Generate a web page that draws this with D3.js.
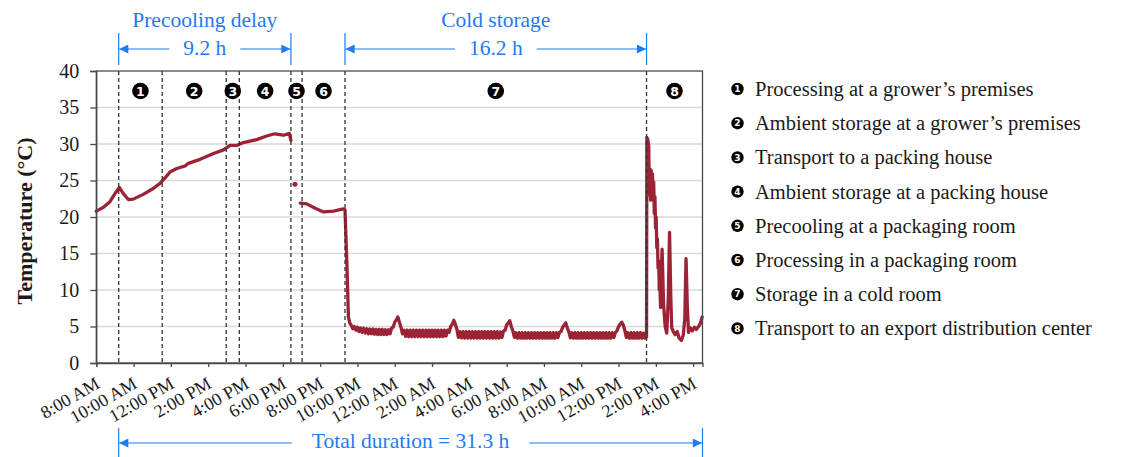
<!DOCTYPE html>
<html>
<head>
<meta charset="utf-8">
<script src="https://cdn.jsdelivr.net/npm/d3@7"></script>
<style>
  body { margin: 0; background: #fff; }
</style>
</head>
<body>
<svg id="chart" width="1126" height="457"></svg>
<script>
// Logger record: time is minutes after the start of the record (8:00 AM, harvest day)
const startTime = new Date(2020, 0, 6, 8, 0);
const endMinute = 1950;

// [minutes, °C] readings, grower's premises through the packing house
const growerToPackingHouse = [
  [0, 20.8], [22, 21.3], [44, 22.1], [60, 23.2], [74, 24.05], [87, 23.2], [103, 22.4],
  [119, 22.45], [151, 23.1], [183, 23.9], [205, 24.6], [224, 25.5], [238, 26.2],
  [259, 26.65], [286, 27.0], [296, 27.35], [334, 27.9], [377, 28.7], [409, 29.2],
  [430, 29.8], [452, 29.8], [473, 30.2], [516, 30.6], [548, 31.1], [574, 31.4],
  [602, 31.2], [621, 31.45], [626, 30.5]
];

// single reading logged during precooling
const precoolingReading = [[639, 24.5]];

// packaging room, then the drop into the cold room
const packagingRoom = [
  [656, 21.9], [677, 21.8], [704, 21.2], [731, 20.7], [763, 20.8], [795, 21.1],
  [800, 21.0], [806, 13.7], [811, 6.3], [816, 5.4]
];

// cold room: 5-minute readings from minute 820 (compressor cycling, defrost peaks)
const coldRoomStart = 820;
const coldRoomStep = 5;
const coldRoomTemps = [
  5.2, 4.7, 5.0, 4.5, 4.9, 4.3, 4.8, 4.2, 4.75, 4.1, 4.7, 4.0,
  4.65, 4.0, 4.65, 3.95, 4.6, 3.9, 4.6, 3.9, 4.6, 3.9, 4.55, 3.9,
  4.55, 4.0, 4.8, 4.9, 5.6, 5.9, 6.3, 5.6, 4.9, 4.0, 4.5, 3.65,
  4.5, 3.6, 4.5, 3.6, 4.5, 3.6, 4.5, 3.6, 4.5, 3.6, 4.5, 3.6,
  4.5, 3.6, 4.5, 3.6, 4.5, 3.6, 4.5, 3.6, 4.5, 3.6, 4.5, 3.6,
  4.5, 3.7, 4.5, 4.2, 5.0, 5.3, 5.85, 5.3, 4.6, 3.5, 4.3, 3.45,
  4.3, 3.4, 4.3, 3.4, 4.3, 3.4, 4.3, 3.4, 4.3, 3.4, 4.3, 3.4,
  4.3, 3.4, 4.3, 3.4, 4.3, 3.4, 4.3, 3.4, 4.3, 3.4, 4.3, 3.4,
  4.25, 3.5, 4.4, 4.5, 5.2, 5.5, 5.8, 5.0, 4.4, 3.5, 4.15, 3.4,
  4.15, 3.4, 4.15, 3.4, 4.15, 3.4, 4.15, 3.4, 4.15, 3.4, 4.15, 3.4,
  4.15, 3.4, 4.15, 3.4, 4.15, 3.4, 4.15, 3.4, 4.15, 3.4, 4.15, 3.4,
  4.15, 3.5, 4.2, 4.3, 4.9, 5.2, 5.5, 4.8, 4.3, 3.45, 4.15, 3.4,
  4.15, 3.4, 4.15, 3.4, 4.15, 3.4, 4.15, 3.4, 4.15, 3.4, 4.15, 3.4,
  4.15, 3.4, 4.15, 3.4, 4.15, 3.4, 4.15, 3.4, 4.15, 3.4, 4.15, 3.4,
  4.15, 3.5, 4.2, 4.4, 5.0, 5.3, 5.6, 5.2, 4.5, 3.5, 4.15, 3.4,
  4.15, 3.4, 4.15, 3.4, 4.15, 3.4, 4.15, 3.4, 4.1, 3.4, 3.6
];

// truck to the export distribution center
const exportTransport = [
  [1771, 30.9], [1774, 30.6], [1777, 29.8], [1779, 23.0], [1781, 26.6], [1783, 22.3],
  [1785, 26.4], [1787, 22.4], [1789, 25.9], [1791, 22.5], [1793, 24.8], [1795, 20.5],
  [1797, 22.8], [1799, 18.5], [1801, 20.0], [1803, 15.8], [1805, 17.0], [1807, 13.0],
  [1809, 14.0], [1811, 10.0], [1813, 10.8], [1815, 7.6],
  [1820, 15.6], [1825, 7.8], [1830, 5.0], [1835, 4.1], [1840, 9.0], [1844, 17.9],
  [1848, 9.0], [1851, 4.8], [1856, 4.3], [1862, 3.9], [1869, 4.3], [1875, 3.4],
  [1882, 3.1], [1888, 3.8], [1893, 6.0], [1897, 14.3], [1901, 8.0], [1905, 4.2],
  [1911, 4.8], [1917, 4.4], [1924, 4.9], [1930, 4.6], [1937, 5.0], [1943, 5.4], [1949, 6.3]
];

// stage start times (minutes); stage 8 ends at endMinute
const stageStarts = [72, 212, 418, 460, 626, 662, 800, 1770];
const stageNames = [
  "Processing at a grower\u2019s premises",
  "Ambient storage at a grower\u2019s premises",
  "Transport to a packing house",
  "Ambient storage at a packing house",
  "Precooling at a packaging room",
  "Processing in a packaging room",
  "Storage in a cold room",
  "Transport to an export distribution center"
];

const yTicks = [0, 5, 10, 15, 20, 25, 30, 35, 40];

// ---------------------------------------------------------------
const serif = "'Liberation Serif', 'Times New Roman', serif";
const blue = "#1f7bf2";
const lineRed = "#9b2335";
const frameGrey = "#4a4a4a";

const svg = d3.select("#chart");
svg.append("rect").attr("width", 1126).attr("height", 457).attr("fill", "#fff");

const at = m => new Date(startTime.getTime() + m * 60000);
const coldRoom = coldRoomTemps.map((t, i) => [coldRoomStart + i * coldRoomStep, t]);

const x = d3.scaleTime().domain([startTime, at(endMinute)]).range([96.3, 702.5]);
const y = d3.scaleLinear().domain([0, 40]).range([363, 71]);
const [x0, x1] = x.range();
const [yB, yT] = y.range();

// gridlines
svg.append("g").selectAll("line")
  .data(yTicks.filter(v => v > 0 && v < 40))
  .join("line")
  .attr("x1", x0).attr("x2", x1)
  .attr("y1", d => y(d)).attr("y2", d => y(d))
  .attr("stroke", "#d9d9d9").attr("stroke-width", 1.5);

// temperature trace
const line = d3.line().x(d => x(at(d[0]))).y(d => y(d[1]));
const traceStyle = p => p.attr("fill", "none").attr("stroke", lineRed)
  .attr("stroke-width", 3.3).attr("stroke-linejoin", "round").attr("stroke-linecap", "round");

svg.append("path").datum(growerToPackingHouse).attr("d", line).call(traceStyle);
svg.append("path").datum(packagingRoom.concat(coldRoom, exportTransport)).attr("d", line).call(traceStyle);
svg.append("g").selectAll("circle").data(precoolingReading).join("circle")
  .attr("cx", d => x(at(d[0]))).attr("cy", d => y(d[1])).attr("r", 2.5).attr("fill", lineRed);

// stage boundaries
svg.append("g").selectAll("line").data(stageStarts).join("line")
  .attr("x1", d => x(at(d))).attr("x2", d => x(at(d)))
  .attr("y1", yT).attr("y2", yB)
  .attr("stroke", "#333").attr("stroke-width", 1.3).attr("stroke-dasharray", "4,3");

// frame
svg.append("rect").attr("x", x0).attr("y", yT).attr("width", x1 - x0).attr("height", yB - yT)
  .attr("fill", "none").attr("stroke", frameGrey).attr("stroke-width", 1.3);

// axes
const yAxis = svg.append("g").attr("transform", `translate(${x0},0)`)
  .call(d3.axisLeft(y).tickValues(yTicks).tickSize(6).tickPadding(11));
const xAxis = svg.append("g").attr("transform", `translate(0,${yB})`)
  .call(d3.axisBottom(x).ticks(d3.timeHour.every(2)).tickFormat(d3.timeFormat("%-I:%M %p")).tickSize(4));
[yAxis, xAxis].forEach(g => {
  g.select(".domain").attr("stroke", frameGrey).attr("stroke-width", 1.3);
  g.selectAll(".tick line").attr("stroke", frameGrey).attr("stroke-width", 1.3);
  g.selectAll("text").attr("font-family", serif).attr("fill", "#1a1a1a");
});
yAxis.selectAll("text").attr("font-size", 20);
xAxis.selectAll("text")
  .attr("font-size", 18).attr("text-anchor", "end")
  .attr("x", 0).attr("y", 0).attr("dy", 0)
  .attr("transform", "translate(4,24) rotate(-30)");

// y title
svg.append("text")
  .attr("transform", `translate(32,${(yT + yB) / 2 + 4}) rotate(-90)`)
  .attr("text-anchor", "middle")
  .attr("font-family", serif).attr("font-weight", "bold").attr("font-size", 22)
  .attr("fill", "#1a1a1a")
  .text("Temperature (\u00B0C)");

// numbered badges
function badge(g, cx, cy, r, n, fs) {
  g.append("circle").attr("cx", cx).attr("cy", cy).attr("r", r).attr("fill", "#000");
  g.append("text").attr("x", cx).attr("y", cy).attr("dy", "0.36em")
    .attr("text-anchor", "middle").attr("fill", "#fff")
    .attr("font-family", "'DejaVu Sans', sans-serif").attr("font-weight", "bold")
    .attr("font-size", fs).text(n);
}
const stageEnds = stageStarts.slice(1).concat([endMinute]);
const badges = svg.append("g");
stageStarts.forEach((s, i) => {
  const cx = (x(at(s)) + x(at(stageEnds[i]))) / 2;
  badge(badges, cx, 91, 8.3, i + 1, 12.5);
});

// legend
const legend = svg.append("g");
stageNames.forEach((name, i) => {
  const cy = 89 + i * 34.2;
  badge(legend, 737.5, cy, 6.2, i + 1, 9);
  legend.append("text").attr("x", 755).attr("y", cy + 7)
    .attr("font-family", serif).attr("font-size", 20.5).attr("fill", "#1a1a1a")
    .text(name);
});

// dimension arrows
const defs = svg.append("defs");
defs.append("marker").attr("id", "arrowEnd").attr("viewBox", "0 0 10 10")
  .attr("refX", 10).attr("refY", 5).attr("markerWidth", 10).attr("markerHeight", 9)
  .attr("markerUnits", "userSpaceOnUse").attr("orient", "auto")
  .append("path").attr("d", "M0,0L10,5L0,10Z").attr("fill", blue);

function dimension(m0, m1, lineY, tickTop, tickBottom, label, labelY, title, titleY, gap) {
  const g = svg.append("g");
  const xa = x(at(m0)), xb = x(at(m1)), mid = (xa + xb) / 2;
  [xa, xb].forEach(xx => g.append("line").attr("x1", xx).attr("x2", xx)
    .attr("y1", tickTop).attr("y2", tickBottom).attr("stroke", blue).attr("stroke-width", 1.2));
  const t = g.append("text").attr("x", mid).attr("y", labelY).attr("text-anchor", "middle")
    .attr("font-family", serif).attr("font-size", 21.5).attr("fill", blue).text(label);
  const half = t.node().getComputedTextLength() / 2 + gap;
  g.append("line").attr("x1", mid - half).attr("x2", xa + 0.6).attr("y1", lineY).attr("y2", lineY)
    .attr("stroke", blue).attr("stroke-width", 1.2).attr("marker-end", "url(#arrowEnd)");
  g.append("line").attr("x1", mid + half).attr("x2", xb - 0.6).attr("y1", lineY).attr("y2", lineY)
    .attr("stroke", blue).attr("stroke-width", 1.2).attr("marker-end", "url(#arrowEnd)");
  if (title) {
    g.append("text").attr("x", mid).attr("y", titleY).attr("text-anchor", "middle")
      .attr("font-family", serif).attr("font-size", 21.5).attr("fill", blue).text(title);
  }
}
const hours = (a, b) => ((b - a) / 60).toFixed(1) + " h";
dimension(stageStarts[0], stageStarts[4], 49, 33, 65, hours(stageStarts[0], stageStarts[4]), 55, "Precooling delay", 27, 14);
dimension(stageStarts[6], stageStarts[7], 49, 33, 65, hours(stageStarts[6], stageStarts[7]), 55, "Cold storage", 27, 14);
dimension(stageStarts[0], endMinute, 443, 428, 457, "Total duration = " + hours(stageStarts[0], endMinute), 448, null, 0, 20);
</script>
</body>
</html>
